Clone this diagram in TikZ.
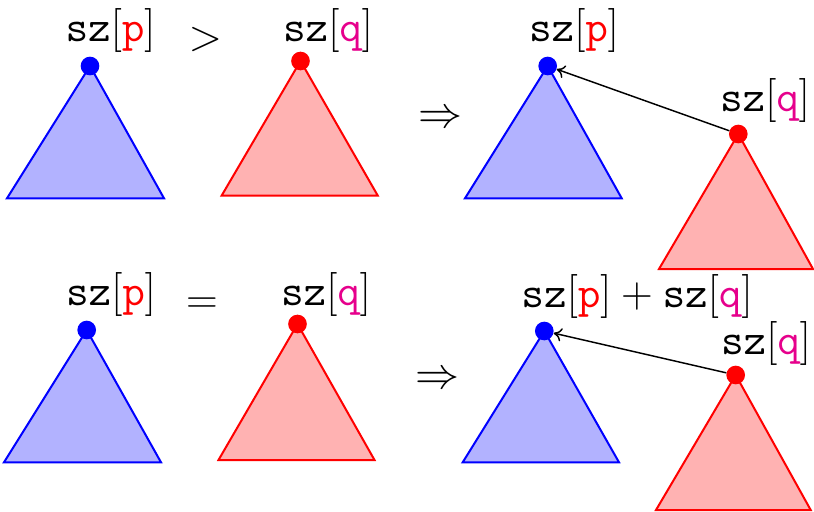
\RequirePackage{fix-cm}
\documentclass[tikz,border=0pt]{standalone}
\usepackage{xcolor}
\usetikzlibrary{arrows.meta}
\definecolor{qmag}{RGB}{230,0,140}
\newcommand{\lblp}{\ensuremath{\mathtt{sz}[\textcolor{red}{\mathtt{p}}]}}
\newcommand{\lblq}{\ensuremath{\mathtt{sz}[\textcolor{qmag}{\mathtt{q}}]}}
\tikzset{
  bluetri/.style={draw=blue, fill=blue!30, line width=1.5pt, line join=miter},
  redtri/.style={draw=red, fill=red!30, line width=1.5pt, line join=miter},
  bluedot/.style={circle, fill=blue, inner sep=0pt, minimum size=14pt},
  reddot/.style={circle, fill=red, inner sep=0pt, minimum size=14pt},
  lbl/.style={anchor=base, inner sep=0pt, font=\fontsize{33}{40}\selectfont},
  link/.style={-{To[length=6pt,width=10pt]}, line width=1.1pt, black},
}
\begin{document}
\begin{tikzpicture}[x=0.75pt, y=-0.75pt]
\useasboundingbox (0,0) rectangle (814,511);
% triangles
\fill[bluetri] (90,66) -- (7,198.3) -- (164,198.3) -- cycle;
\fill[redtri] (300.5,61) -- (221.7,195.5) -- (377.7,195.5) -- cycle;
\fill[bluetri] (547.7,66) -- (465,198.3) -- (621.7,198.3) -- cycle;
\fill[redtri] (738.3,134) -- (659,269) -- (813,269) -- cycle;
\fill[bluetri] (86.7,330) -- (4,462.3) -- (161,462.3) -- cycle;
\fill[redtri] (297.5,324) -- (218.5,460) -- (374.5,460) -- cycle;
\fill[bluetri] (544.3,331) -- (462.7,462.3) -- (619,462.3) -- cycle;
\fill[redtri] (735.7,375) -- (656,510) -- (810.7,510) -- cycle;
% dots
\node[bluedot] (p1) at (90,66) {};
\node[reddot] (q1) at (300.5,61) {};
\node[bluedot] (p2) at (547.7,66) {};
\node[reddot] (q2) at (738.3,134) {};
\node[bluedot] (p3) at (86.7,330) {};
\node[reddot] (q3) at (297.5,324) {};
\node[bluedot] (p4) at (544.3,331) {};
\node[reddot] (q4) at (735.7,375) {};
% links
\draw[link] (q2) -- (p2);
\draw[link] (q4) -- (p4);
% labels
\node[lbl] (l1) at (110.5,41) {\lblp};
\node[lbl] (l2) at (328,41) {\lblq};
\node[lbl] (l3) at (574,41) {\lblp};
\node[lbl] (l4) at (765,111.5) {\lblq};
\node[lbl] (l5) at (111,305) {\lblp};
\node[lbl] (l6) at (326,305) {\lblq};
\node[lbl] (l7) at (637,307.5) {\lblp${}+{}$\lblq};
\node[lbl] (l8) at (766,354) {\lblq};
\node[lbl] (gt) at (205.5,50.5) {$>$};
\node[lbl] (eq) at (202,313.5) {$=$};
\node[lbl] (im1) at (440,127.5) {$\Rightarrow$};
\node[lbl] (im2) at (437,388.5) {$\Rightarrow$};
\end{tikzpicture}
\end{document}
